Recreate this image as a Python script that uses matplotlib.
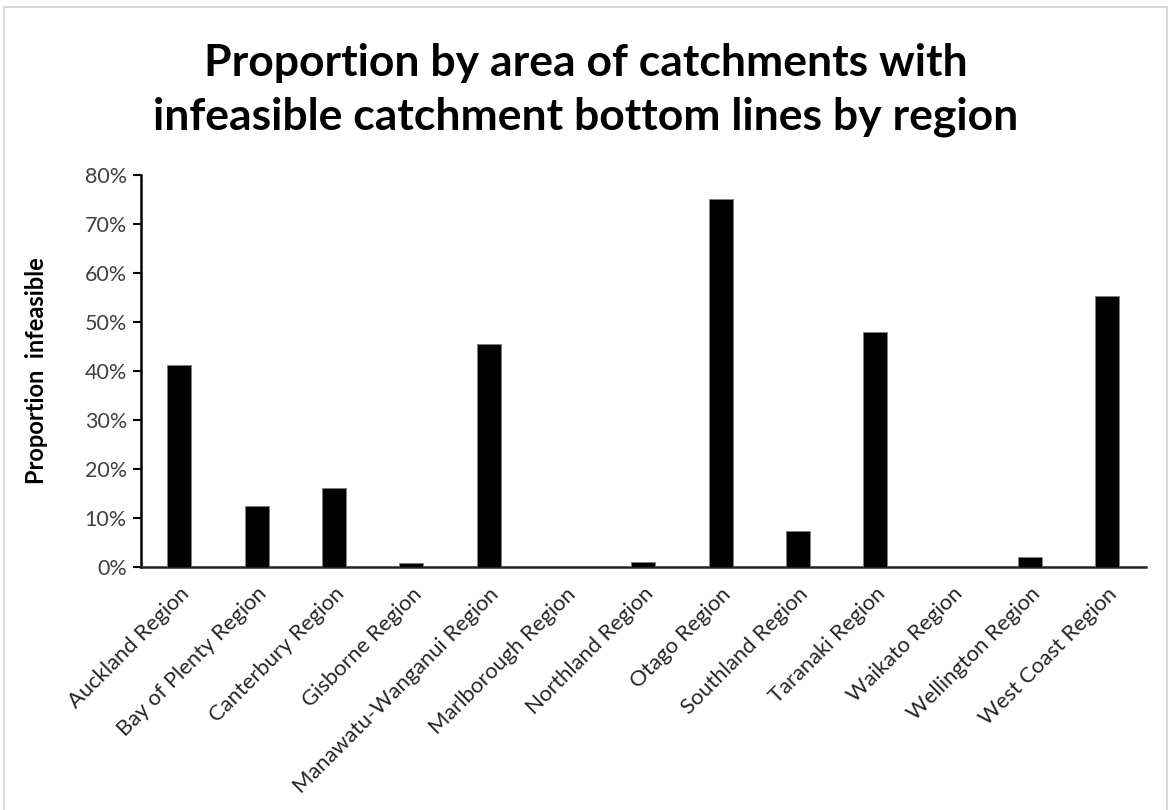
import matplotlib
matplotlib.use("Agg")
import matplotlib.pyplot as plt
from matplotlib.patches import Rectangle
from matplotlib.ticker import FuncFormatter, MultipleLocator

regions = ["Auckland Region", "Bay of Plenty Region", "Canterbury Region",
           "Gisborne Region", "Manawatu-Wanganui Region", "Marlborough Region",
           "Northland Region", "Otago Region", "Southland Region",
           "Taranaki Region", "Waikato Region", "Wellington Region",
           "West Coast Region"]
proportion = [0.412, 0.125, 0.161, 0.0075, 0.456, 0.0, 0.010, 0.750,
              0.074, 0.479, 0.0, 0.020, 0.554]

title = "Proportion by area of catchments with\ninfeasible catchment bottom lines by region"
ylabel = "Proportion  infeasible"

plt.rcParams['font.family'] = ['Lato', 'DejaVu Sans']

fig = plt.figure(figsize=(11.71, 8.10), dpi=100)
fig.patch.set_facecolor("white")
ax = fig.add_axes([0.1202, 0.300, 0.8582, 0.484])

x = list(range(len(regions)))
ax.bar(x, proportion, width=0.31, color="black", edgecolor="#7f7f7f", linewidth=0.6, zorder=3)
ax.set_xlim(-0.5, len(regions) - 0.5)
ax.set_ylim(0, 0.8)
ax.yaxis.set_major_locator(MultipleLocator(0.1))
ax.yaxis.set_major_formatter(FuncFormatter(lambda v, p: f"{v*100:.0f}%"))

for s in ["top", "right"]:
    ax.spines[s].set_visible(False)
ax.spines["left"].set_linewidth(1.8)
ax.spines["bottom"].set_linewidth(1.8)
ax.spines["left"].set_color("black")
ax.spines["bottom"].set_color("#222222")

ax.tick_params(axis="y", direction="out", length=6, width=1.5, labelsize=15.5,
               labelcolor="#404040", pad=4)
ax.tick_params(axis="x", length=0, pad=12)
ax.set_xticks(x)
ax.set_xticklabels(regions, rotation=45, ha="right", rotation_mode="anchor",
                   fontsize=15.8, color="#262626")

ax.set_ylabel(ylabel, fontsize=17, fontweight="bold", color="black")
ax.yaxis.set_label_coords(-0.092, 0.5)

fig.text(0.5, 1 - 90 / 810, title, ha="center", va="center", fontsize=32,
         fontweight="bold", linespacing=1.38, color="black")

border = Rectangle((4 / 1171, -0.01), (1167 - 4) / 1171, 1 - 7 / 810 + 0.01,
                   transform=fig.transFigure, fill=False, edgecolor="#d9d9d9",
                   linewidth=1.5)
fig.patches.append(border)

fig.savefig("out.png", dpi=100, facecolor="white")
